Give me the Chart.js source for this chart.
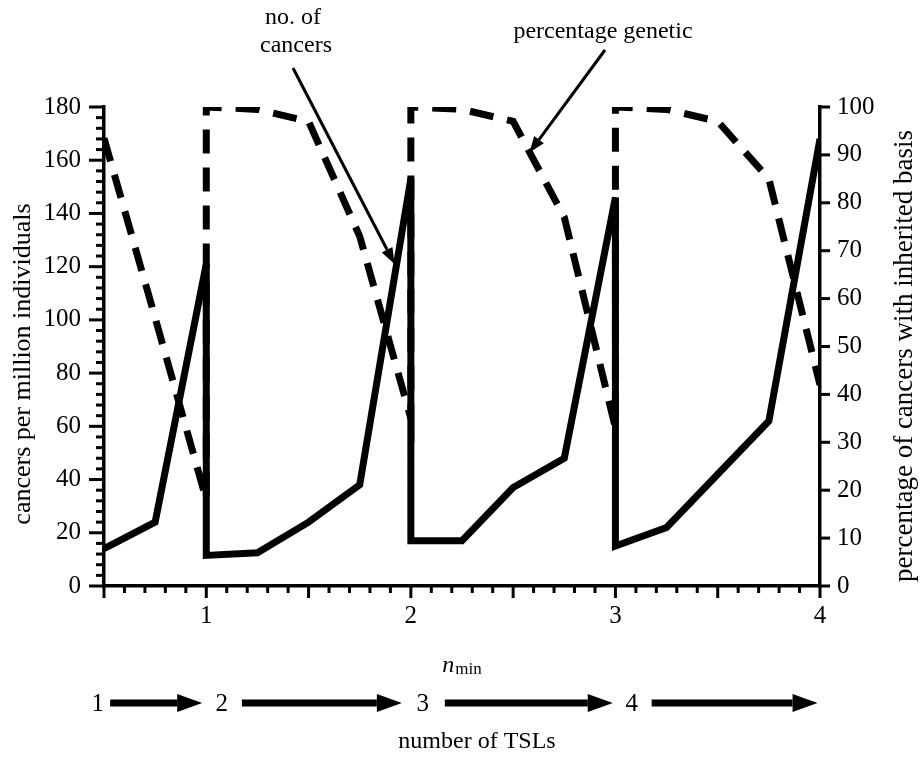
<!DOCTYPE html>
<html>
<head>
<meta charset="utf-8">
<script src="https://cdn.jsdelivr.net/npm/chart.js@4.4.1/dist/chart.umd.min.js"></script>
<style>
  html, body { margin: 0; padding: 0; background: #fff; }
</style>
</head>
<body>
<canvas id="chart" width="920" height="763"></canvas>
<script>
// n_min values (repeated x = vertical jumps in the curves)
const nmin = [0.5, 0.75, 1, 1, 1.25, 1.5, 1.75, 2, 2, 2.25, 2.5, 2.75, 3, 3, 3.25, 3.5, 3.75, 4];
// cancers per million individuals (left axis)
const cancers = [14, 24, 121, 11.5, 12.5, 24, 38, 153, 17, 17, 37, 48, 146, 15, 22, 42, 62, 168];
// percentage of cancers with inherited basis (right axis)
const genetic = [93.5, 56, 18, 100, 99.5, 97, 73, 35, 100, 99.5, 97, 77, 33, 100, 99.5, 97, 85, 42];
// labels
const xTickValues = [1, 2, 3, 4];
const tslLabels = ['1', '2', '3', '4'];

const FONT = "'Liberation Serif', 'Times New Roman', serif";
Chart.defaults.font.family = FONT;
Chart.defaults.color = '#000';

function line(ctx, x1, y1, x2, y2) {
  ctx.beginPath();
  ctx.moveTo(x1, y1);
  ctx.lineTo(x2, y2);
  ctx.stroke();
}

// arrow with a filled head at (x2, y2)
function arrow(ctx, x1, y1, x2, y2, w, headLen, headHalf) {
  const ang = Math.atan2(y2 - y1, x2 - x1);
  const bx = x2 - headLen * Math.cos(ang), by = y2 - headLen * Math.sin(ang);
  ctx.lineWidth = w;
  line(ctx, x1, y1, bx, by);
  ctx.beginPath();
  ctx.moveTo(x2, y2);
  ctx.lineTo(bx + headHalf * Math.sin(ang), by - headHalf * Math.cos(ang));
  ctx.lineTo(bx - headHalf * Math.sin(ang), by + headHalf * Math.cos(ang));
  ctx.closePath();
  ctx.fill();
}

const extras = {
  id: 'extras',
  afterDraw(chart) {
    const { ctx, chartArea: a } = chart;
    const x = chart.scales.x, yL = chart.scales.yL, yR = chart.scales.yR;
    ctx.save();
    ctx.strokeStyle = '#000';
    ctx.fillStyle = '#000';
    ctx.lineWidth = 3;

    // tick marks
    for (let i = 0; i <= 35; i++) {
      const px = x.getPixelForValue(0.5 + i * 0.1);
      line(ctx, px, a.bottom, px, a.bottom + (i % 5 === 0 ? 12 : 7));
    }
    for (let v = 0; v <= 180; v += 4) {
      const py = yL.getPixelForValue(v);
      line(ctx, a.left, py, a.left - (v % 20 === 0 ? 15 : 8), py);
    }
    for (let v = 0; v <= 100; v += 10) {
      const py = yR.getPixelForValue(v);
      line(ctx, a.right, py, a.right + 10, py);
    }

    // axis titles
    ctx.textAlign = 'center';
    ctx.textBaseline = 'middle';
    ctx.save();
    ctx.font = '26px ' + FONT;
    ctx.translate(23, 364);
    ctx.rotate(-Math.PI / 2);
    ctx.fillText('cancers per million individuals', 0, 0);
    ctx.restore();
    ctx.save();
    ctx.font = '27px ' + FONT;
    ctx.translate(905, 356);
    ctx.rotate(-Math.PI / 2);
    ctx.fillText('percentage of cancers with inherited basis', 0, 0);
    ctx.restore();

    // n_min
    const cx = (a.left + a.right) / 2;
    ctx.textBaseline = 'alphabetic';
    ctx.textAlign = 'left';
    ctx.font = 'italic 24px ' + FONT;
    const nW = ctx.measureText('n').width;
    ctx.font = '17px ' + FONT;
    const mW = ctx.measureText('min').width;
    const sx = cx - (nW + mW + 1) / 2;
    ctx.font = 'italic 24px ' + FONT;
    ctx.fillText('n', sx, 672);
    ctx.font = '17px ' + FONT;
    ctx.fillText('min', sx + nW + 1, 674);

    // number of TSLs row
    const numPos = [0.47, 1.076, 2.058, 3.08];
    const arrows = [[0.53, 0.98], [1.174, 1.956], [2.166, 2.987], [3.177, 3.988]];
    ctx.font = '25px ' + FONT;
    ctx.textAlign = 'center';
    ctx.textBaseline = 'middle';
    const rowY = 703;
    tslLabels.forEach((t, i) => ctx.fillText(t, x.getPixelForValue(numPos[i]), rowY + 1));
    arrows.forEach(([s, e]) => {
      const x1 = x.getPixelForValue(s), x2 = x.getPixelForValue(e);
      arrow(ctx, x1, rowY, x2, rowY, 7, 25, 9);
    });
    ctx.font = '24px ' + FONT;
    ctx.fillText('number of TSLs', 477, 742);

    // callouts
    ctx.fillText('no. of', 293, 18);
    ctx.fillText('cancers', 296, 46);
    ctx.fillText('percentage genetic', 603, 32);
    arrow(ctx, 293, 68, x.getPixelForValue(1.92), yL.getPixelForValue(121), 3, 16, 6);
    arrow(ctx, 605, 50, x.getPixelForValue(2.58), yR.getPixelForValue(90.5), 3, 16, 6);

    ctx.restore();
  }
};

new Chart(document.getElementById('chart'), {
  type: 'line',
  data: {
    datasets: [
      {
        label: 'no. of cancers',
        data: nmin.map((v, i) => ({ x: v, y: cancers[i] })),
        yAxisID: 'yL',
        borderColor: '#000',
        borderWidth: 7,
        borderJoinStyle: 'miter',
        pointRadius: 0,
        tension: 0,
        fill: false
      },
      {
        label: 'percentage genetic',
        data: nmin.map((v, i) => ({ x: v, y: genetic[i] })),
        yAxisID: 'yR',
        borderColor: '#000',
        borderWidth: 7,
        borderDash: [24, 14],
        borderJoinStyle: 'miter',
        pointRadius: 0,
        tension: 0,
        fill: false
      }
    ]
  },
  options: {
    responsive: false,
    animation: false,
    devicePixelRatio: 1,
    layout: { padding: { top: 107, left: 0, right: 0, bottom: 0 } },
    plugins: { legend: { display: false }, tooltip: { enabled: false } },
    scales: {
      x: {
        type: 'linear',
        min: 0.5,
        max: 4,
        afterBuildTicks: s => { s.ticks = xTickValues.map(v => ({ value: v })); },
        afterFit: s => { s.height = 177; },
        grid: { display: true, drawOnChartArea: false, drawTicks: false },
        border: { display: true, color: '#000', width: 3.5 },
        ticks: { font: { size: 25 }, padding: 15, maxRotation: 0 }
      },
      yL: {
        position: 'left',
        min: 0,
        max: 180,
        afterFit: s => { s.width = 104; },
        grid: { display: true, drawOnChartArea: false, drawTicks: false },
        border: { display: true, color: '#000', width: 3.5 },
        ticks: { stepSize: 20, font: { size: 25 }, padding: 23 }
      },
      yR: {
        position: 'right',
        min: 0,
        max: 100,
        afterFit: s => { s.width = 100; },
        grid: { display: true, drawOnChartArea: false, drawTicks: false },
        border: { display: true, color: '#000', width: 3.5 },
        ticks: { stepSize: 10, font: { size: 25 }, padding: 17 }
      }
    }
  },
  plugins: [extras]
});
</script>
</body>
</html>
